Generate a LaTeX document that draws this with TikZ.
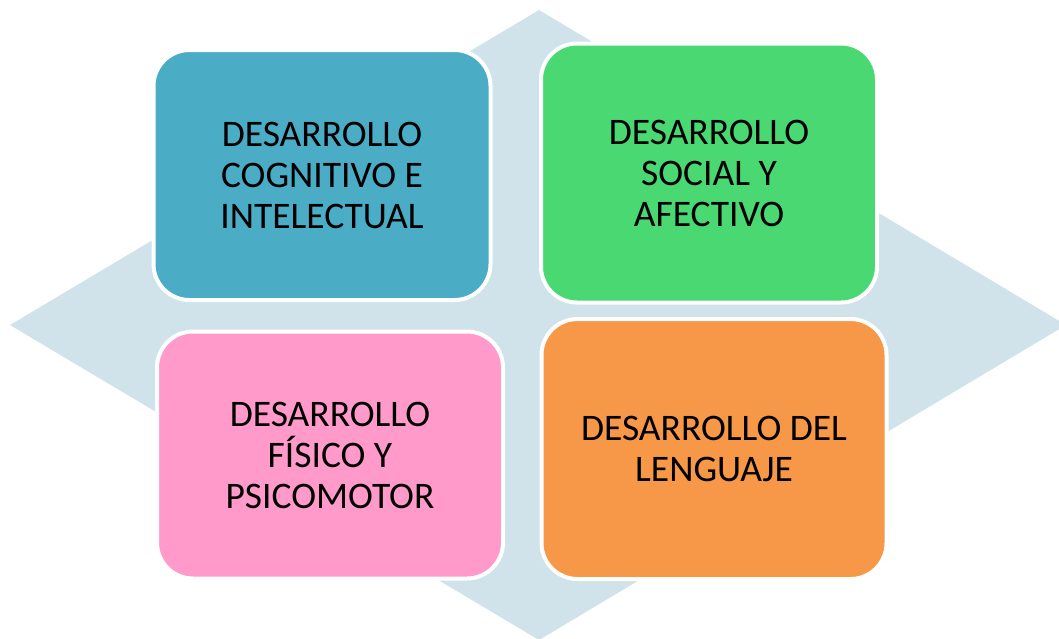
\documentclass[tikz,border=0pt]{standalone}
\usepackage{fontspec}
\setmainfont{Carlito}
\usetikzlibrary{positioning}

\definecolor{diamondblue}{HTML}{D0E2EA}
\definecolor{cogblue}{HTML}{4BACC6}
\definecolor{socgreen}{HTML}{4AD873}
\definecolor{fispink}{HTML}{FF9ACB}
\definecolor{lenorange}{HTML}{F79848}

\tikzset{
  area/.style={draw=white, line width=4pt, rounded corners=36pt, align=center,
    font=\fontsize{37.5}{41}\selectfont, text=black, inner sep=0pt}
}

\begin{document}
\begin{tikzpicture}[x=1pt,y=-1pt]
   \useasboundingbox (0,0) rectangle (1059,638);
   % background diamond
   \fill[diamondblue] (539,10) -- (1066,325) -- (539,640) -- (10,325) -- cycle;

   \node[area, fill=cogblue, minimum width=337pt, minimum height=250pt] (cog) at (322,175)
      {DESARROLLO\\COGNITIVO E\\INTELECTUAL};
   \node[area, fill=socgreen, minimum width=336pt, minimum height=259pt] (soc) at (709,173)
      {DESARROLLO\\SOCIAL Y\\AFECTIVO};
   \node[area, fill=fispink, minimum width=346pt, minimum height=247pt] (fis) at (330,455)
      {DESARROLLO\\FÍSICO Y\\PSICOMOTOR};
   \node[area, fill=lenorange, minimum width=345pt, minimum height=260pt] (len) at (714,449)
      {DESARROLLO DEL\\LENGUAJE};
\end{tikzpicture}
\end{document}
